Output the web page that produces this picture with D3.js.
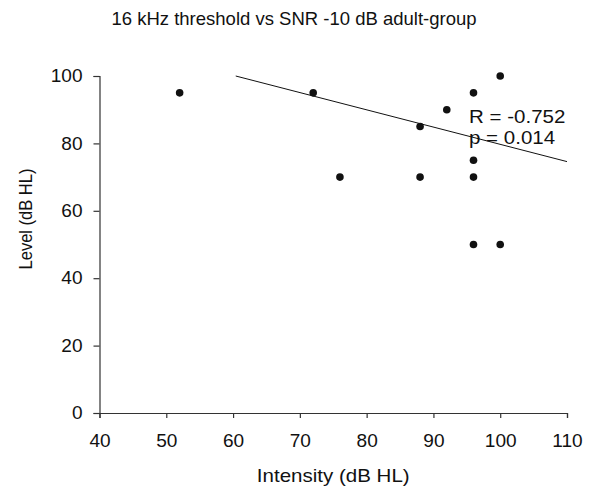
<!DOCTYPE html>
<html>
<head>
<meta charset="utf-8">
<script src="https://cdn.jsdelivr.net/npm/d3@7"></script>
<style>
  body { margin: 0; background: #fff; }
  text { font-family: "Liberation Sans", Arial, sans-serif; fill: #111; }
</style>
</head>
<body>
<div id="chart"></div>
<script>
// data
const intensity = [52, 72, 76, 88, 88, 92, 96, 96, 96, 96, 100, 100];
const level     = [95, 95, 70, 85, 70, 90, 95, 75, 70, 50, 100, 50];
const trendX = [60.4, 110];
const trendY = [100, 74.6];
const xTicks = [40, 50, 60, 70, 80, 90, 100, 110];
const yTicks = [0, 20, 40, 60, 80, 100];
const statLines = ['R = -0.752', 'p = 0.014'];

const width = 593;
const height = 493;
const margin = { top: 76, right: 26, bottom: 80, left: 99.5 };
// the source picture looks a bit wider than tall, so text gets a small x stretch
const stretch = 1.14;

const x = d3.scaleLinear().domain([40, 110]).range([margin.left, width - margin.right]);
const y = d3.scaleLinear().domain([0, 100]).range([height - margin.bottom, margin.top]);

const svg = d3.select('#chart')
    .append('svg')
    .attr('width', width)
    .attr('height', height);

svg.append('text')
    .attr('x', 294)
    .attr('y', 25)
    .attr('text-anchor', 'middle')
    .style('font-size', '18.5px')
    .text('16 kHz threshold vs SNR -10 dB adult-group');

const xAxis = svg.append('g')
    .attr('transform', `translate(0,${y(0)})`)
    .call(d3.axisBottom(x).tickValues(xTicks).tickSize(5).tickPadding(16));

const yAxis = svg.append('g')
    .attr('transform', `translate(${x(40)},0)`)
    .call(d3.axisLeft(y).tickValues(yTicks).tickSize(6).tickPadding(10));

[xAxis, yAxis].forEach(g => {
    g.selectAll('.domain, line').attr('stroke', '#333').attr('stroke-width', 1.2);
    g.selectAll('text')
        .style('font-size', '18px')
        .attr('fill', '#111')
        .attr('transform', 'scale(1.06,1)');
});

svg.append('text')
    .attr('transform', `translate(${(x(40) + x(110)) / 2},482) scale(${stretch},1)`)
    .attr('text-anchor', 'middle')
    .style('font-size', '18px')
    .text('Intensity (dB HL)');

// rotated, so the stretch goes on the glyph height
svg.append('text')
    .attr('transform', `translate(32,219) rotate(-90) scale(1,${stretch})`)
    .attr('text-anchor', 'middle')
    .style('font-size', '16.5px')
    .text('Level (dB HL)');

svg.append('line')
    .attr('x1', x(trendX[0]))
    .attr('y1', y(trendY[0]))
    .attr('x2', x(trendX[1]))
    .attr('y2', y(trendY[1]))
    .attr('stroke', '#111')
    .attr('stroke-width', 1);

svg.selectAll('.dot')
    .data(intensity.map((d, i) => ({ x: d, y: level[i] })))
    .join('circle')
        .attr('class', 'dot')
        .attr('cx', d => x(d.x))
        .attr('cy', d => y(d.y))
        .attr('r', 3.8)
        .attr('fill', '#111');

svg.selectAll('.stat')
    .data(statLines)
    .join('text')
        .attr('class', 'stat')
        .attr('transform', (d, i) => `translate(469,${123 + i * 21}) scale(${stretch},1)`)
        .style('font-size', '18px')
        .text(d => d);
</script>
</body>
</html>
